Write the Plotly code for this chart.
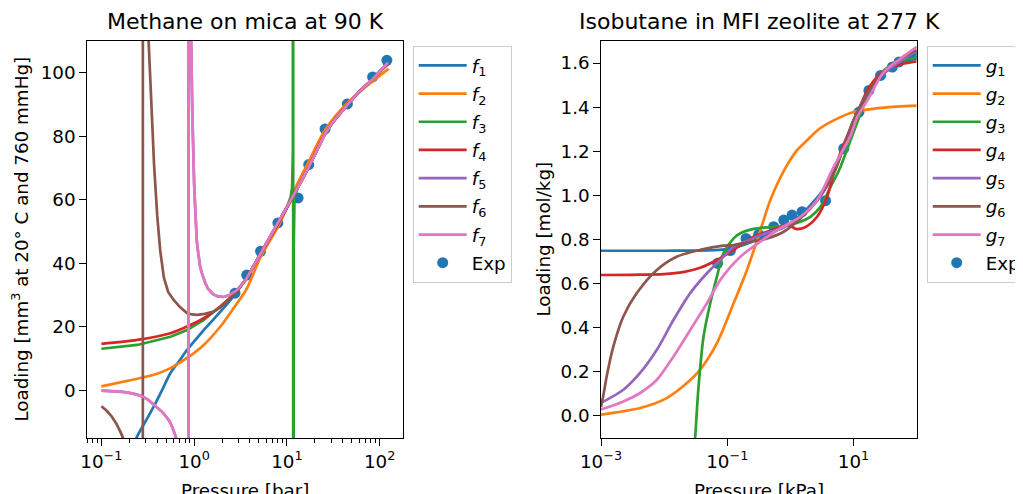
import plotly.graph_objects as go

# ---------------- Left panel: Methane on mica at 90 K ----------------
exp1_P = [2.76, 3.69, 5.21, 8.0, 13.2, 17.2, 25.8, 44.9, 84.1, 119.7]
exp1_L = [30.6, 36.3, 43.8, 52.7, 60.6, 71.1, 82.3, 90.2, 98.7, 103.9]

f1_P = [0.21, 0.244, 0.30, 0.369, 0.45, 0.556, 0.70, 0.841, 1.0, 1.27, 1.6, 1.92, 2.3, 2.76,
        3.2, 3.69, 4.4, 5.21, 6.5, 8.0, 10.0, 13.2, 17.2, 21.0, 25.8, 30.0, 35.0, 44.9, 60.0,
        84.0, 105.0, 125.0]
f1_L = [-19.0, -14.4, -9.7, -5.0, 0.0, 5.45, 9.5, 12.8, 15.4, 19.0, 22.2, 24.8, 27.4, 30.3,
        32.9, 35.3, 39.3, 43.1, 48.0, 52.3, 57.5, 64.0, 70.3, 75.6, 80.8, 83.8, 86.2, 89.9, 94.0,
        98.0, 101.0, 103.0]

f2_P = [0.1, 0.244, 0.369, 0.556, 0.841, 1.27, 1.92, 2.67, 3.69, 5.21, 8.0, 10.0, 13.2, 17.2,
        25.8, 44.9, 84.0, 125.0]
f2_L = [1.26, 3.67, 4.9, 7.0, 10.2, 14.3, 20.1, 25.9, 32.0, 42.0, 51.5, 57.5, 65.5, 72.0,
        82.0, 90.5, 97.3, 101.2]

f3_P = [0.1, 0.244, 0.556, 0.841, 1.27, 1.92, 2.76, 3.2, 3.69, 4.4, 5.21, 6.5, 8.0, 10.0, 11.0,
        11.4, 11.6, 11.68, 11.72, 11.85, 12.1, 13.2, 17.2, 21.0, 25.8, 30.0, 35.0, 44.9, 60.0,
        84.0, 105.0, 125.0]
f3_L = [13.1, 14.3, 16.9, 19.0, 22.2, 26.4, 30.6, 32.9, 35.3, 39.3, 43.1, 48.0, 52.3, 57.5, 61.0,
        64.0, 75.0, 5000.0, -5000.0, 45.0, 61.0, 64.0, 70.3, 75.6, 80.8, 83.8, 86.2, 89.9, 94.0,
        98.0, 101.0, 103.0]

f4_P = [0.1, 0.244, 0.556, 0.841, 1.27, 1.92, 2.76, 3.69, 5.21, 8.0, 10.0, 13.2, 17.2, 25.8,
        35.0, 44.9, 60.0, 84.0, 125.0]
f4_L = [14.65, 15.9, 18.0, 20.1, 22.7, 26.4, 30.6, 35.3, 43.1, 52.3, 57.5, 64.0, 70.3, 80.8,
        86.2, 89.9, 94.0, 98.0, 103.0]

f5_P = [0.1, 0.13, 0.17, 0.2, 0.244, 0.28, 0.32, 0.369, 0.41, 0.46, 0.513, 0.55, 0.58, 0.61,
        0.63, 0.66, 0.7, 0.78, 0.85, 0.868, 0.872, 0.9, 0.929, 0.955, 0.983, 1.0, 1.025, 1.069,
        1.11, 1.16, 1.21, 1.259, 1.33, 1.41, 1.5, 1.61, 1.8, 2.07, 2.4, 2.88, 3.2, 3.69, 4.4,
        5.21, 6.5, 8.0, 10.0, 13.2, 17.2, 21.0, 25.8, 30.0, 35.0, 44.9, 60.0, 84.0, 105.0, 123.0]
f5_L = [-0.1, -0.25, -0.5, -0.8, -1.35, -2.0, -3.0, -4.5, -5.6, -7.0, -8.7, -10.0, -11.5, -13.0,
        -14.4, -17.0, -20.0, -40.0, -200.0, -5000.0, 5000.0, 190.0, 110.0, 88.0, 71.0, 65.0,
        58.0, 47.0, 43.0, 39.0, 37.0, 35.5, 33.6, 32.0, 31.0, 30.2, 29.6, 29.4, 30.0, 31.5, 33.0,
        35.3, 39.3, 43.1, 48.0, 52.3, 57.5, 64.0, 70.3, 75.6, 80.8, 83.8, 86.2, 89.9, 94.0, 98.0,
        101.0, 103.2]

f6_P = [0.1, 0.115, 0.13, 0.145, 0.16, 0.168, 0.185, 0.2, 0.22, 0.24, 0.255, 0.265, 0.278,
        0.282, 0.295, 0.323, 0.342, 0.37, 0.40, 0.431, 0.472, 0.5, 0.525, 0.56, 0.605, 0.7,
        0.841, 0.95, 1.077, 1.3, 1.63, 1.9, 2.26, 2.83, 3.2, 3.69, 4.4, 5.21, 6.5, 8.0, 10.0,
        13.2, 17.2, 21.0, 25.8, 30.0, 35.0, 44.9, 60.0, 84.0, 105.0, 125.0]
f6_L = [-5.0, -6.5, -8.3, -10.5, -13.0, -14.4, -18.0, -22.0, -30.0, -45.0, -70.0, -120.0,
        -5000.0, 5000.0, 250.0, 110.0, 92.0, 71.0, 55.0, 44.0, 35.5, 33.0, 31.0, 29.8, 28.4, 26.3,
        24.3, 23.9, 23.8, 24.1, 24.8, 26.0, 27.9, 31.0, 33.0, 35.3, 39.3, 43.1, 48.0, 52.3, 57.5,
        64.0, 70.3, 75.6, 80.8, 83.8, 86.2, 89.9, 94.0, 98.0, 101.0, 103.0]

f7_P = [0.1, 0.13, 0.17, 0.2, 0.244, 0.28, 0.32, 0.369, 0.41, 0.46, 0.513, 0.55, 0.58, 0.61,
        0.63, 0.66, 0.7, 0.78, 0.85, 0.868, 0.872, 0.9, 0.929, 0.955, 0.983, 1.0, 1.025, 1.069,
        1.11, 1.16, 1.21, 1.259, 1.33, 1.41, 1.5, 1.61, 1.8, 2.07, 2.4, 2.88, 3.2, 3.69, 4.4,
        5.21, 6.5, 8.0, 10.0, 13.2, 17.2, 21.0, 25.8, 30.0, 35.0, 44.9, 60.0, 84.0, 105.0, 123.0]
f7_L = [-0.1, -0.25, -0.5, -0.8, -1.35, -2.0, -3.0, -4.5, -5.6, -7.0, -8.7, -10.0, -11.5, -13.0,
        -14.4, -17.0, -20.0, -40.0, -200.0, -5000.0, 5000.0, 190.0, 110.0, 88.0, 71.0, 65.0,
        58.0, 47.0, 43.0, 39.0, 37.0, 35.5, 33.6, 32.0, 31.0, 30.2, 29.6, 29.4, 30.0, 31.5, 33.0,
        35.3, 39.3, 43.1, 48.0, 52.3, 57.5, 64.0, 70.3, 75.6, 80.8, 83.8, 86.2, 89.9, 94.0, 98.0,
        101.0, 103.2]

# ---------------- Right panel: Isobutane in MFI zeolite at 277 K ----------------
exp2_P = [0.0702, 0.112, 0.198, 0.314, 0.543, 0.783, 1.06, 1.53, 3.6, 7.0, 12.2, 17.5, 26.8,
          41.1, 52.5, 71.1, 90.8]
exp2_L = [0.692, 0.75, 0.805, 0.823, 0.858, 0.888, 0.911, 0.926, 0.976, 1.213, 1.378, 1.476,
          1.544, 1.582, 1.605, 1.62, 1.635]

g1_P = [0.001, 0.01, 0.0316, 0.0631, 0.1, 0.126, 0.2, 0.316, 0.427, 0.783, 1.44, 2.65, 3.6,
        4.86, 7.0, 10.0, 12.6, 16.5, 26.9, 41.1, 55.7, 71.1, 100.0]
g1_L = [0.749, 0.749, 0.750, 0.752, 0.756, 0.762, 0.78, 0.805, 0.823, 0.855, 0.91, 0.99, 1.04,
        1.11, 1.22, 1.34, 1.4, 1.465, 1.54, 1.583, 1.605, 1.62, 1.632]

g2_P = [0.001, 0.00416, 0.011, 0.0229, 0.0372, 0.0686, 0.126, 0.205, 0.296, 0.482, 0.783,
        1.276, 1.84, 2.82, 4.86, 10.0, 30.2, 100.0]
g2_L = [0.006, 0.036, 0.081, 0.149, 0.21, 0.33, 0.511, 0.662, 0.795, 0.979, 1.11, 1.205, 1.25,
        1.30, 1.34, 1.378, 1.398, 1.407]

g3_P = [0.0295, 0.031, 0.0351, 0.0421, 0.0537, 0.0686, 0.0871, 0.126, 0.161, 0.262, 0.427,
        0.783, 1.44, 2.07, 2.99, 4.32, 5.89, 8.95, 12.9, 18.6, 30.2, 49.0, 100.0]
g3_L = [-0.2, -0.1, 0.134, 0.36, 0.511, 0.632, 0.738, 0.805, 0.828, 0.848, 0.855, 0.861, 0.881,
        0.903, 0.948, 1.039, 1.114, 1.25, 1.371, 1.49, 1.567, 1.605, 1.625]

g4_P = [0.001, 0.00316, 0.01, 0.02, 0.0372, 0.0686, 0.126, 0.232, 0.427, 0.631, 0.891, 1.276,
        1.84, 2.65, 3.82, 5.18, 7.41, 11.4, 16.5, 26.9, 49.0, 100.0]
g4_L = [0.639, 0.64, 0.643, 0.652, 0.672, 0.707, 0.753, 0.805, 0.835, 0.852, 0.866, 0.847,
        0.861, 0.903, 0.994, 1.13, 1.25, 1.371, 1.476, 1.552, 1.59, 1.607]

g5_P = [0.001, 0.00226, 0.00416, 0.00766, 0.0141, 0.0259, 0.0476, 0.0776, 0.126, 0.232, 0.427,
        0.783, 1.44, 2.65, 4.86, 7.0, 10.0, 16.5, 26.9, 55.7, 100.0]
g5_L = [0.059, 0.119, 0.195, 0.3, 0.436, 0.557, 0.647, 0.707, 0.767, 0.8, 0.83, 0.855, 0.9,
        0.975, 1.1, 1.22, 1.34, 1.46, 1.54, 1.61, 1.655]

g6_P = [0.001, 0.0011, 0.00123, 0.00157, 0.00226, 0.00369, 0.00766, 0.0158, 0.0372, 0.0871,
        0.126, 0.427, 0.783, 1.44, 2.65, 4.86, 7.0, 10.0, 16.5, 26.9, 55.7, 100.0]
g6_L = [0.04, 0.1, 0.179, 0.315, 0.451, 0.557, 0.662, 0.722, 0.753, 0.772, 0.775, 0.805, 0.835,
        0.896, 0.979, 1.1, 1.22, 1.34, 1.46, 1.55, 1.62, 1.66]

g7_P = [0.001, 0.00226, 0.00416, 0.00766, 0.0141, 0.0259, 0.0476, 0.0776, 0.161, 0.334, 0.693,
        1.44, 2.65, 4.86, 8.95, 11.4, 16.5, 30.2, 55.7, 100.0]
g7_L = [0.029, 0.066, 0.104, 0.164, 0.27, 0.39, 0.511, 0.617, 0.722, 0.79, 0.851, 0.903, 0.979,
        1.13, 1.27, 1.355, 1.43, 1.56, 1.62, 1.673]

# tick labels
x1_tickvals = [0.1, 1, 10, 100]
x1_ticktext = ["10<sup>\u22121</sup>", "10<sup>0</sup>", "10<sup>1</sup>", "10<sup>2</sup>"]
y1_tickvals = [0, 20, 40, 60, 80, 100]
x2_tickvals = [0.001, 0.1, 10]
x2_ticktext = ["10<sup>\u22123</sup>", "10<sup>\u22121</sup>", "10<sup>1</sup>"]

colors = ["#1f77b4", "#ff7f0e", "#2ca02c", "#d62728", "#9467bd", "#8c564b", "#e377c2"]
FONT = "DejaVu Sans"
# page body has an 8px margin: work in reference pixels and shift by it
OFF = 8
W, H = 1023 - OFF, 494 - OFF


def fx(px):
    return (px - OFF) / W


def fy(py):
    return 1 - (py - OFF) / H


fig = go.Figure()

left_series = [(f1_P, f1_L, "spline"), (f2_P, f2_L, "spline"), (f3_P, f3_L, "linear"),
               (f4_P, f4_L, "spline"), (f5_P, f5_L, "linear"), (f6_P, f6_L, "linear"),
               (f7_P, f7_L, "linear")]
right_series = [(g1_P, g1_L), (g2_P, g2_L), (g3_P, g3_L), (g4_P, g4_L),
                (g5_P, g5_L), (g6_P, g6_L), (g7_P, g7_L)]

LW = 2.7
MS = 11

# Exp markers first (drawn beneath lines, as in matplotlib)
fig.add_trace(go.Scatter(x=exp1_P, y=exp1_L, mode="markers", name="Exp",
                         marker=dict(color=colors[0], size=MS),
                         xaxis="x", yaxis="y", legend="legend", legendrank=8,
                         legendgroup="e1"))
fig.add_trace(go.Scatter(x=exp2_P, y=exp2_L, mode="markers", name="Exp",
                         marker=dict(color=colors[0], size=MS),
                         xaxis="x2", yaxis="y2", legend="legend2", legendrank=8,
                         legendgroup="e2"))

for i, (px_, py_, shp) in enumerate(left_series):
    fig.add_trace(go.Scatter(x=px_, y=py_, mode="lines",
                             name=f"<i>f</i><sub>{i+1}</sub>",
                             line=dict(color=colors[i], width=LW, shape=shp, smoothing=0.8),
                             xaxis="x", yaxis="y", legend="legend", legendrank=i + 1,
                             legendgroup=f"f{i}"))
for i, (px_, py_) in enumerate(right_series):
    fig.add_trace(go.Scatter(x=px_, y=py_, mode="lines",
                             name=f"<i>g</i><sub>{i+1}</sub>",
                             line=dict(color=colors[i], width=LW, shape="spline", smoothing=0.8),
                             xaxis="x2", yaxis="y2", legend="legend2", legendrank=i + 1,
                             legendgroup=f"g{i}"))

TICKSZ = 18.3
axis_common = dict(showline=True, linecolor="black", linewidth=1.4, mirror=True,
                   ticks="outside", ticklen=6.5, tickwidth=1.4, tickcolor="black",
                   showgrid=False, zeroline=False,
                   tickfont=dict(family=FONT, size=TICKSZ, color="black"))

y0, y1 = fy(438), fy(41)

legend_common = dict(yanchor="top", xanchor="left",
                     bgcolor="rgba(255,255,255,0.8)", bordercolor="#cccccc", borderwidth=1,
                     font=dict(family=FONT, size=TICKSZ, color="black"),
                     itemwidth=48, traceorder="grouped", tracegroupgap=1.4)

fig.update_layout(
    width=W, height=H,
    margin=dict(l=0, r=0, t=0, b=0, autoexpand=False),
    paper_bgcolor="white", plot_bgcolor="white",
    font=dict(family=FONT, color="black"),
    xaxis=dict(type="log", domain=[fx(87), fx(403)], range=[-1.155, 2.252],
               tickvals=x1_tickvals, ticktext=x1_ticktext, anchor="y",
               minor=dict(ticks="outside", ticklen=3.7, tickwidth=1.1, tickcolor="black",
                          dtick="D1", showgrid=False),
               **axis_common),
    yaxis=dict(domain=[y0, y1], range=[-15, 110], tickvals=y1_tickvals,
               anchor="x", **axis_common),
    xaxis2=dict(type="log", domain=[fx(601), fx(916.7)], range=[-3, 2],
                tickvals=x2_tickvals, ticktext=x2_ticktext, anchor="y2", **axis_common),
    yaxis2=dict(domain=[y0, y1], range=[-0.1, 1.7], dtick=0.2, tick0=0, tickformat=".1f",
                anchor="x2", **axis_common),
    legend=dict(x=fx(412.7), y=fy(46), **legend_common),
    legend2=dict(x=fx(926.7), y=fy(46), **legend_common),
    showlegend=True,
)

ann = [
    dict(text="Methane on mica at 90 K", x=fx(245), y=fy(22), size=22, angle=0),
    dict(text="Isobutane in MFI zeolite at 277 K", x=fx(759), y=fy(22), size=22, angle=0),
    dict(text="Pressure [bar]", x=fx(245), y=fy(490), size=TICKSZ, angle=0),
    dict(text="Pressure [kPa]", x=fx(759), y=fy(490), size=TICKSZ, angle=0),
    dict(text="Loading [mm<sup>3</sup> at 20\u00b0 C and 760 mmHg]", x=fx(21), y=fy(239.5),
         size=TICKSZ, angle=-90),
    dict(text="Loading [mol/kg]", x=fx(543), y=fy(239.5), size=TICKSZ, angle=-90),
]
for a in ann:
    fig.add_annotation(text=a["text"], x=a["x"], y=a["y"], xref="paper", yref="paper",
                       xanchor="center", yanchor="middle", showarrow=False,
                       textangle=a["angle"], font=dict(family=FONT, size=a["size"], color="black"))

fig.write_html("out.html")
